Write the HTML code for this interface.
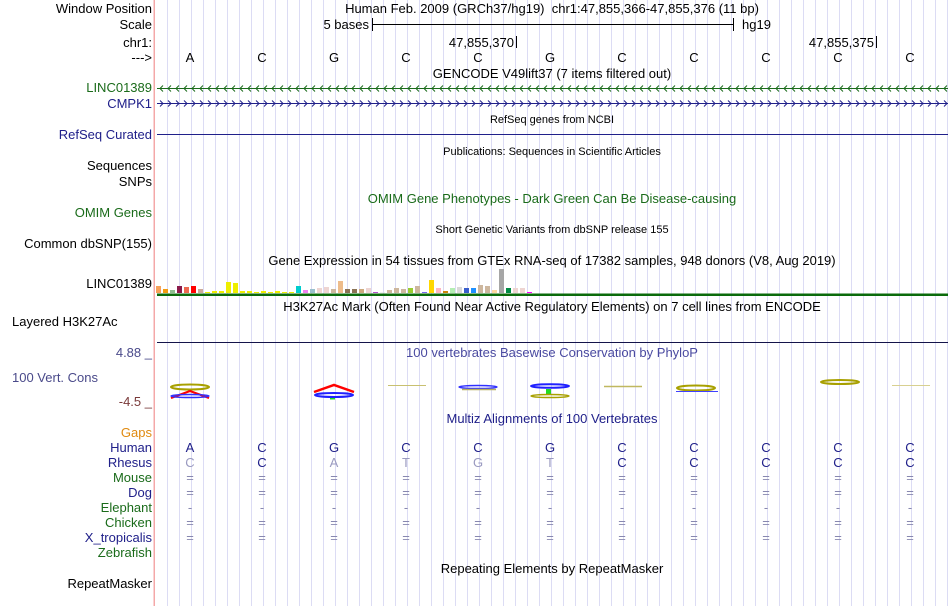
<!DOCTYPE html>
<html><head><meta charset="utf-8"><style>
html,body{margin:0;padding:0;background:#fff;}
svg{display:block;font-family:"Liberation Sans",sans-serif;}
</style></head><body>
<svg id="chart" width="950" height="606" viewBox="0 0 950 606" xmlns="http://www.w3.org/2000/svg">
<g id="grid"></g>
<rect x="153.5" y="0" width="1.5" height="606" fill="#f4a8a8"/>
<g font-size="13" fill="#000" text-anchor="end">
<text x="152" y="13">Window Position</text>
<text x="152" y="29">Scale</text>
<text x="152" y="47">chr1:</text>
<text x="152" y="62">---&gt;</text>
<text x="152" y="92" fill="#1a6b1a">LINC01389</text>
<text x="152" y="108" fill="#20208a">CMPK1</text>
<text x="152" y="139" fill="#20208a">RefSeq Curated</text>
<text x="152" y="170">Sequences</text>
<text x="152" y="186">SNPs</text>
<text x="152" y="217" fill="#1a6b1a">OMIM Genes</text>
<text x="152" y="248">Common dbSNP(155)</text>
<text x="152" y="288">LINC01389</text>
<text x="152" y="357" fill="#4a4a8a">4.88 _</text>
<text x="152" y="406" fill="#7a3a3a">-4.5 _</text>
<text x="152" y="437" fill="#e08a10">Gaps</text>
<text x="152" y="452" fill="#20208a">Human</text>
<text x="152" y="467" fill="#20208a">Rhesus</text>
<text x="152" y="482" fill="#1a6b1a">Mouse</text>
<text x="152" y="497" fill="#20208a">Dog</text>
<text x="152" y="512" fill="#1a6b1a">Elephant</text>
<text x="152" y="527" fill="#1a6b1a">Chicken</text>
<text x="152" y="542" fill="#20208a">X_tropicalis</text>
<text x="152" y="557" fill="#1a6b1a">Zebrafish</text>
<text x="152" y="588">RepeatMasker</text>
</g>
<text x="12" y="326" font-size="13">Layered H3K27Ac</text>
<text x="12" y="382" font-size="13" fill="#4a4a8a">100 Vert. Cons</text>

<g font-size="13" text-anchor="middle">
<text x="552" y="13" xml:space="preserve">Human Feb. 2009 (GRCh37/hg19)  chr1:47,855,366-47,855,376 (11 bp)</text>
<text x="552" y="78">GENCODE V49lift37 (7 items filtered out)</text>
<text x="552" y="123" font-size="11">RefSeq genes from NCBI</text>
<text x="552" y="155" font-size="11">Publications: Sequences in Scientific Articles</text>
<text x="552" y="203" fill="#1a6b1a">OMIM Gene Phenotypes - Dark Green Can Be Disease-causing</text>
<text x="552" y="233" font-size="11">Short Genetic Variants from dbSNP release 155</text>
<text x="552" y="265">Gene Expression in 54 tissues from GTEx RNA-seq of 17382 samples, 948 donors (V8, Aug 2019)</text>
<text x="552" y="311">H3K27Ac Mark (Often Found Near Active Regulatory Elements) on 7 cell lines from ENCODE</text>
<text x="552" y="357" fill="#4a4aa0">100 vertebrates Basewise Conservation by PhyloP</text>
<text x="552" y="423" fill="#20208a">Multiz Alignments of 100 Vertebrates</text>
<text x="552" y="573">Repeating Elements by RepeatMasker</text>
</g>

<g font-size="13">
<text x="369" y="29" text-anchor="end">5 bases</text>
<line x1="372.5" y1="18" x2="372.5" y2="31" stroke="#000"/>
<line x1="372" y1="24.5" x2="734" y2="24.5" stroke="#000"/>
<line x1="733.5" y1="18" x2="733.5" y2="31" stroke="#000"/>
<text x="742" y="29">hg19</text>
<text x="514" y="47" text-anchor="end">47,855,370</text>
<line x1="516.5" y1="36" x2="516.5" y2="48" stroke="#000"/>
<text x="874" y="47" text-anchor="end">47,855,375</text>
<line x1="876.5" y1="36" x2="876.5" y2="48" stroke="#000"/>
</g>

<g id="bases" font-size="13" text-anchor="middle"></g>
<g id="genes"></g>
<line x1="157" y1="134.5" x2="948" y2="134.5" stroke="#20208a"/>
<g id="gtex"></g>
<rect x="157" y="293.5" width="791" height="2.5" fill="#0b6b0b"/>
<line x1="157" y1="342.5" x2="948" y2="342.5" stroke="#14144a"/>
<g id="cons"></g>
<g id="align" font-size="13" text-anchor="middle"></g>
</svg>
<script>
const humanBases = ['A','C','G','C','C','G','C','C','C','C','C'];
const rhesusBases = ['C','C','A','T','G','T','C','C','C','C','C'];
const otherRows = ['=','=','-','=','='];
const gtexValues = [7,4,3,7,6,7,4,1,2,2,11,10,2,2,1,2,1,2,1,1,7,3,4,5,6,4,12,4,4,4,5,1,0.5,3,5,4,5,7,1,13,5,2,5,6,5,5,8,7,3,24,5,5,5,1];
const gtexColors = ['#f7a15a','#f39c12','#8fbc8f','#8b1a4a','#ee6a50','#ff0000','#cdaa9a','#eeee00','#eeee00','#eeee00','#eeee00','#eeee00','#eeee00','#eeee00','#eeee00','#eeee00','#eeee00','#eeee00','#eeee00','#eeee00','#00cdcd','#ee82ee','#9ac0cd','#eed5d2','#eed5d2','#cdb79e','#eebc8b','#8b7355','#8b7355','#cdaa7d','#eed5d2','#b452cd','#dddddd','#cdb79e','#cdb79e','#cdb79e','#9acd32','#cdb79e','#7a67ee','#ffd700','#ffb6c1','#cd850b','#b4eeb4','#d9d9d9','#3a5fcd','#1e90ff','#cdb79e','#cdb79e','#fed7a0','#a6a6a6','#008b45','#eed5d2','#eed5d2','#ff00ff'];
const NS='http://www.w3.org/2000/svg';
function el(tag,attrs,parent){const e=document.createElementNS(NS,tag);for(const k in attrs)e.setAttribute(k,attrs[k]);parent.appendChild(e);return e;}
const xBase = i => 190 + 72*i;
const grid=document.getElementById('grid');
for(let x=167;x<950;x+=12){const l=el('line',{x1:x+0.5,y1:0,x2:x+0.5,y2:606,stroke:'#dcdcf4'},grid);

}
const bases=document.getElementById('bases');
humanBases.forEach((b,i)=>{const t=el('text',{x:xBase(i),y:62},bases);t.textContent=b;

});
const genes=document.getElementById('genes');
[[88,'#1a6b1a',-1,'linc01389-gene'],[103,'#20208a',1,'cmpk1-gene']].forEach(([y,c,dir,name])=>{
 const g=el('g',{},genes);
 
 
 el('line',{x1:157,y1:y+0.5,x2:948,y2:y+0.5,stroke:c},g);
 for(let x=160;x<946;x+=8){el('path',{d:dir<0?`M${x+3},${y-2.5} L${x},${y+0.5} L${x+3},${y+3.5}`:`M${x},${y-2.5} L${x+3},${y+0.5} L${x},${y+3.5}`,fill:'none',stroke:c,'stroke-width':1},g);}
});
const gtex=document.getElementById('gtex');
const yScale = v => v*1.0;
gtexValues.forEach((v,i)=>{const h=yScale(v);const r=el('rect',{x:156+7*i,y:293-h,width:5,height:h,fill:gtexColors[i]},gtex);

});
const cons=document.getElementById('cons');
function ell(cx,cy,rx,ry,c,w){el('ellipse',{cx,cy,rx,ry,fill:'none',stroke:c,'stroke-width':w||1.5},cons);}
ell(190,387,19,2.5,'#a8a000',2);
el('path',{d:'M171,398 L190,391 L209,398',fill:'none',stroke:'#ff0000','stroke-width':2},cons);
ell(190,396,19,1.5,'#3030ff',1.5);
el('path',{d:'M314,392 L334,385 L354,392',fill:'none',stroke:'#ff0000','stroke-width':2.5},cons);
ell(334,395,19,2,'#2020ff',2);
el('rect',{x:330,y:398,width:5,height:1.5,fill:'#22dd22'},cons);
el('line',{x1:388,y1:385.5,x2:426,y2:385.5,stroke:'#c8c070','stroke-width':1},cons);
ell(478,387,19,1.5,'#3030ff',1.5);
el('line',{x1:462,y1:389.5,x2:496,y2:389.5,stroke:'#b8b060','stroke-width':1.5},cons);
ell(550,386,19,1.8,'#2020ff',2);
el('rect',{x:546,y:389,width:5,height:5,fill:'#22dd22'},cons);
ell(550,396,19,1.5,'#a8a000',1.5);
el('line',{x1:604,y1:386.5,x2:642,y2:386.5,stroke:'#c0b860','stroke-width':1.5},cons);
ell(696,388,19,2.5,'#a8a000',2);
el('line',{x1:676,y1:391.5,x2:718,y2:391.5,stroke:'#4040ff','stroke-width':1},cons);
ell(840,382,19,2,'#a8a000',2);
el('line',{x1:892,y1:385.5,x2:930,y2:385.5,stroke:'#d8d090','stroke-width':1},cons);
const align=document.getElementById('align');
humanBases.forEach((b,i)=>{
 const t=el('text',{x:xBase(i),y:452,fill:'#20208a'},align);t.textContent=b;
 
 
 const r=el('text',{x:xBase(i),y:467,fill:rhesusBases[i]===b?'#20208a':'#9a9ac0'},align);r.textContent=rhesusBases[i];
 
 
 otherRows.forEach((s,j)=>{const o=el('text',{x:xBase(i),y:482+15*j,fill:'#8888b0'},align);o.textContent=s;
 
 });
});
</script>
</body></html>
